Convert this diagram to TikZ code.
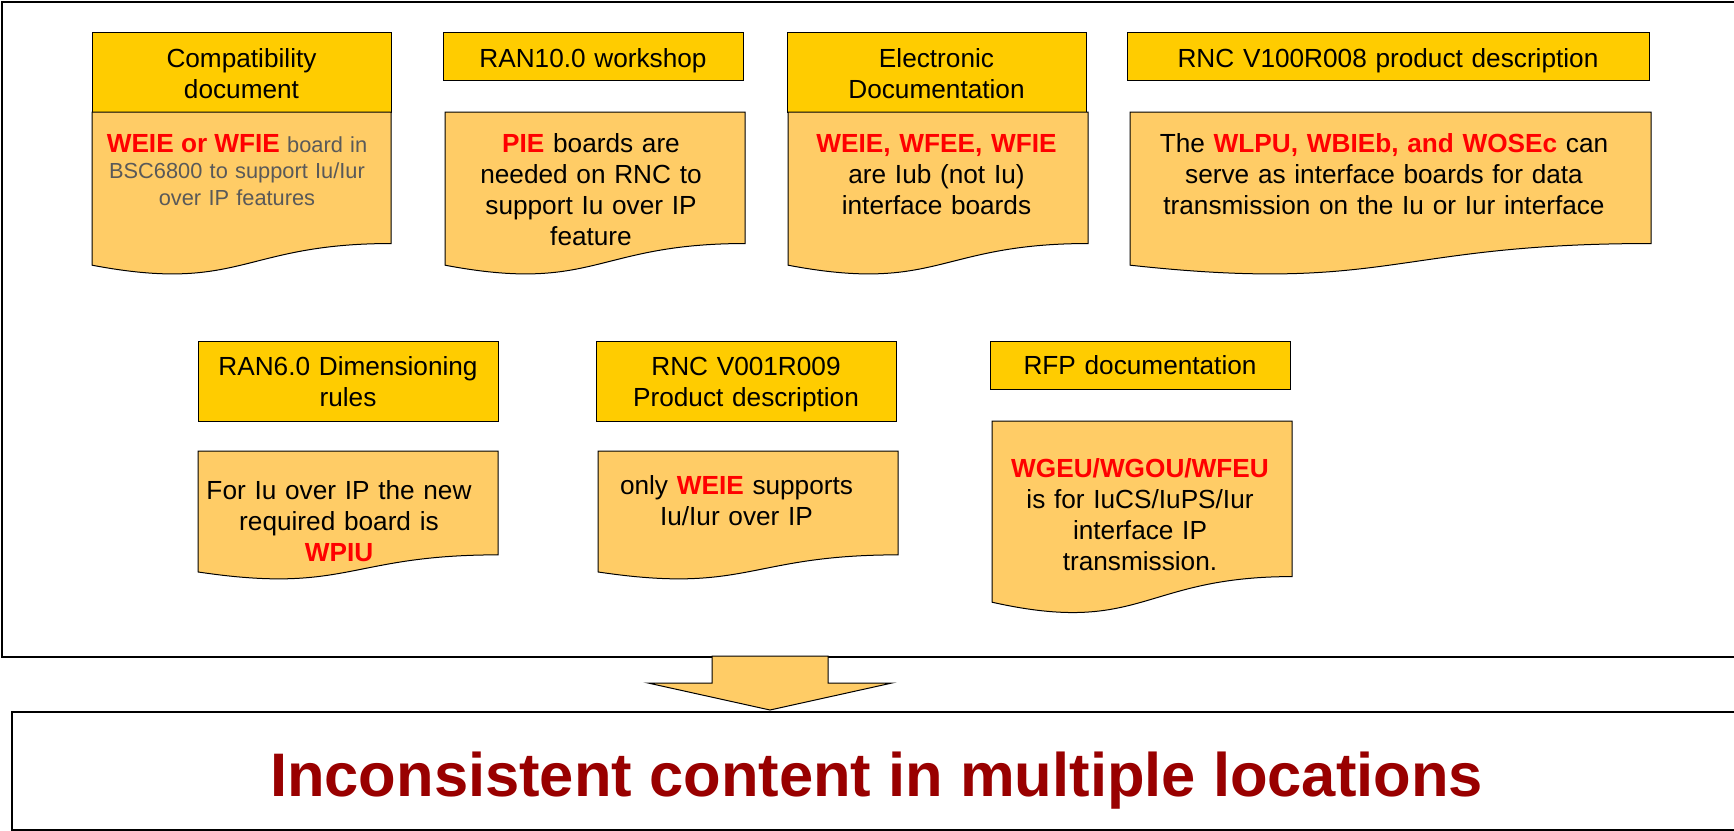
\documentclass[tikz,border=0pt]{standalone}
\usepackage{fontspec}
\setmainfont{Liberation Sans}
\usetikzlibrary{calc}
\definecolor{hdrY}{HTML}{FFCC00}
\definecolor{docY}{HTML}{FFCC66}
\definecolor{redT}{HTML}{FF0000}
\definecolor{darkR}{HTML}{990000}
\definecolor{grayT}{HTML}{595959}
\tikzset{
  hdrbox/.style={draw=black, line width=1pt, fill=hdrY, inner sep=0pt},
  docfill/.style={draw=black, line width=1pt, fill=docY},
  txt/.style={anchor=base, align=center, inner sep=0pt, font=\fontsize{26.2}{31.3}\selectfont},
  framebox/.style={draw=black, line width=1.5pt, inner sep=0pt, anchor=north west},
  blockarrow/.style={draw=black, line width=1pt, fill=docY, line join=miter},
}
\newcommand{\rb}[1]{{\bfseries\color{redT}#1}}
\newcommand{\docshape}[5]{%
  \draw[docfill] (#2,#3) -- (#4,#3) -- (#4,{#3+0.802*#5})
    .. controls ({(#2+#4)/2},{#3+0.802*#5}) and ({(#2+#4)/2},{#3+1.1075*#5}) ..
    (#2,{#3+0.934*#5}) -- cycle;
  \coordinate (#1) at ({(#2+#4)/2},#3);}
\begin{document}
\begin{tikzpicture}[x=1pt,y=-1pt]
\useasboundingbox (0,0) rectangle (1734,830);
\clip (0,0) rectangle (1734,830);
\fill[white] (0,0) rectangle (1734,830);

% outer frame
\node[framebox, minimum width=1760pt, minimum height=655pt] (frame) at (1,1) {};

% top row: headers
\node[hdrbox, minimum width=299pt, minimum height=80pt] (h1) at (241.5,72) {};
\node[hdrbox, minimum width=300pt, minimum height=48pt] (h2) at (593,56) {};
\node[hdrbox, minimum width=299pt, minimum height=80pt] (h3) at (936.5,72) {};
\node[hdrbox, minimum width=522pt, minimum height=48pt] (h4) at (1388,56) {};
% bottom row: headers
\node[hdrbox, minimum width=300pt, minimum height=80pt] (h5) at (348,381) {};
\node[hdrbox, minimum width=300pt, minimum height=80pt] (h6) at (746,381) {};
\node[hdrbox, minimum width=300pt, minimum height=48pt] (h7) at (1140,365) {};

% document shapes
\docshape{d1}{92}{112}{391}{164}
\docshape{d2}{445}{112}{745}{164}
\docshape{d3}{788}{112}{1088}{164}
\docshape{d4}{1130}{112}{1651}{164}
\docshape{d5}{198}{451}{498}{129.5}
\docshape{d6}{598}{451}{898}{129.5}
\docshape{d7}{992}{421}{1292}{194}

% header texts
\node[txt, text width=290pt] (h1t) at (241.5,67) {Compatibility\\document};
\node[txt, text width=290pt] (h2t) at (593,67) {RAN10.0 workshop};
\node[txt, text width=290pt] (h3t) at (936.5,67) {Electronic\\Documentation};
\node[txt, text width=510pt] (h4t) at (1388,67) {RNC V100R008 product description};
\node[txt, text width=290pt] (h5t) at (348,375) {RAN6.0 Dimensioning\\rules};
\node[txt, text width=290pt] (h6t) at (746,375) {RNC V001R009\\Product description};
\node[txt, text width=290pt] (h7t) at (1140,374) {RFP documentation};

% document texts
\node[txt, text width=290pt, text=grayT, font=\fontsize{21.8}{26.5}\selectfont] (d1t) at (237,152)
  {{\fontsize{26.2}{26.5}\selectfont\rb{WEIE or WFIE}} board in\\BSC6800 to support Iu/Iur\\over IP features};
\node[txt, text width=290pt] (d2t) at (591,152) {\rb{PIE} boards are\\needed on RNC to\\support Iu over IP\\feature};
\node[txt, text width=290pt] (d3t) at (936.5,152) {\rb{WEIE, WFEE, WFIE}\\are Iub (not Iu)\\interface boards};
\node[txt, text width=510pt] (d4t) at (1384,152) {The \rb{WLPU, WBIEb, and WOSEc} can\\serve as interface boards for data\\transmission on the Iu or Iur interface};
\node[txt, text width=290pt] (d5t) at (339,499) {For Iu over IP the new\\required board is\\\rb{WPIU}};
\node[txt, text width=290pt] (d6t) at (736.5,494) {only \rb{WEIE} supports\\Iu/Iur over IP};
\node[txt, text width=290pt] (d7t) at (1140,477) {\rb{WGEU/WGOU/WFEU}\\is for IuCS/IuPS/Iur\\interface IP\\transmission.};

% conclusion box
\node[framebox, minimum width=1731pt, minimum height=118pt] (concl) at (11,711) {};
\node[anchor=base, inner sep=0pt, font=\fontsize{61.5}{70}\selectfont\bfseries, text=darkR] (conclt) at (876.5,796) {Inconsistent content in multiple locations};

% block arrow from frame to conclusion
\coordinate (atop) at (770,656);
\coordinate (tip) at (770,710);
\draw[blockarrow] ($(atop)+(-58,0)$) -- ($(atop)+(58,0)$) -- ($(atop)+(58,27)$) -- ($(atop)+(122,27)$)
  -- (tip) -- ($(atop)+(-122,27)$) -- ($(atop)+(-58,27)$) -- cycle;
\end{tikzpicture}
\end{document}
